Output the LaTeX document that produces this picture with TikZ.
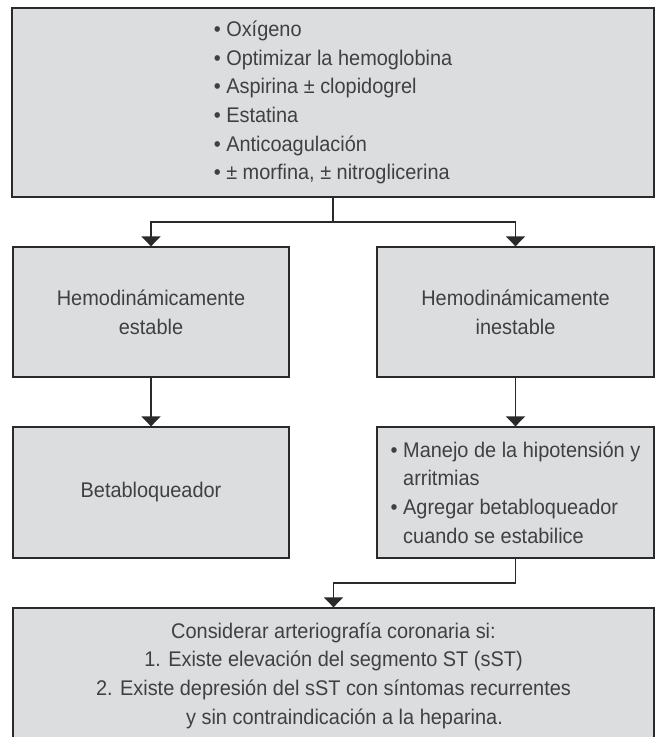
\documentclass[tikz,border=0pt]{standalone}
\usepackage{fontspec}
\setmainfont{Liberation Sans}[FakeStretch=0.94]
\usetikzlibrary{arrows.meta}
\definecolor{boxfill}{HTML}{DCDDDF}
\definecolor{boxline}{HTML}{2A2A2A}
\definecolor{txt}{HTML}{404042}
\begin{document}
\begin{tikzpicture}[x=1pt,y=-1pt,
  box/.style={draw=boxline,fill=boxfill,line width=1.3pt,inner sep=0pt,
    text=txt,font=\fontsize{21.2pt}{28.6pt}\selectfont},
  conn/.style={draw=boxline,line width=1.3pt},
  arr/.style={conn,-{Triangle[width=19pt,length=10pt]}}]
\useasboundingbox (0,0) rectangle (656,737);
\clip (0,0) rectangle (656,737);
\fill[white] (0,0) rectangle (656,737);
\node[box,minimum width=642pt,minimum height=189pt,align=left] (top) at (333,102.5)
 {• Oxígeno\\
  • Optimizar la hemoglobina\\
  • Aspirina ± clopidogrel\\
  • Estatina\\
  • Anticoagulación\\
  • ± morfina, ± nitroglicerina};
\node[box,minimum width=276pt,minimum height=130pt,align=center] (lm) at (151,312)
 {Hemodinámicamente\\estable};
\node[box,minimum width=277pt,minimum height=130pt,align=center] (rm) at (515.5,312)
 {Hemodinámicamente\\inestable};
\node[box,minimum width=276pt,minimum height=131pt] (lb) at (151,492.5)
 {Betabloqueador};
\node[box,minimum width=277pt,minimum height=131pt,align=left] (rb) at (515.5,492.5)
 {• Manejo de la hipotensión y\\
  \phantom{•\ }arritmias\\
  • Agregar betabloqueador\\
  \phantom{•\ }cuando se estabilice};
\node[box,minimum width=641pt,minimum height=135pt,align=center] (bot) at (333.5,675.5)
 {Considerar arteriografía coronaria si:\\
  1. Existe elevación del segmento ST (sST)\\
  2. Existe depresión del sST con síntomas recurrentes\\
  \hspace*{22pt}y sin contraindicación a la heparina.};
\coordinate (j1) at (333,222);
\coordinate (j2) at (515.5,583);
\draw[conn] (top.south) -- (j1);
\draw[arr] (j1) -| (lm.north);
\draw[arr] (j1) -| (rm.north);
\draw[arr] (lm.south) -- (lb.north);
\draw[arr] (rm.south) -- (rb.north);
\draw[conn] (rb.south) -- (j2);
\draw[arr] (j2) -| (bot.north);
\end{tikzpicture}
\end{document}
